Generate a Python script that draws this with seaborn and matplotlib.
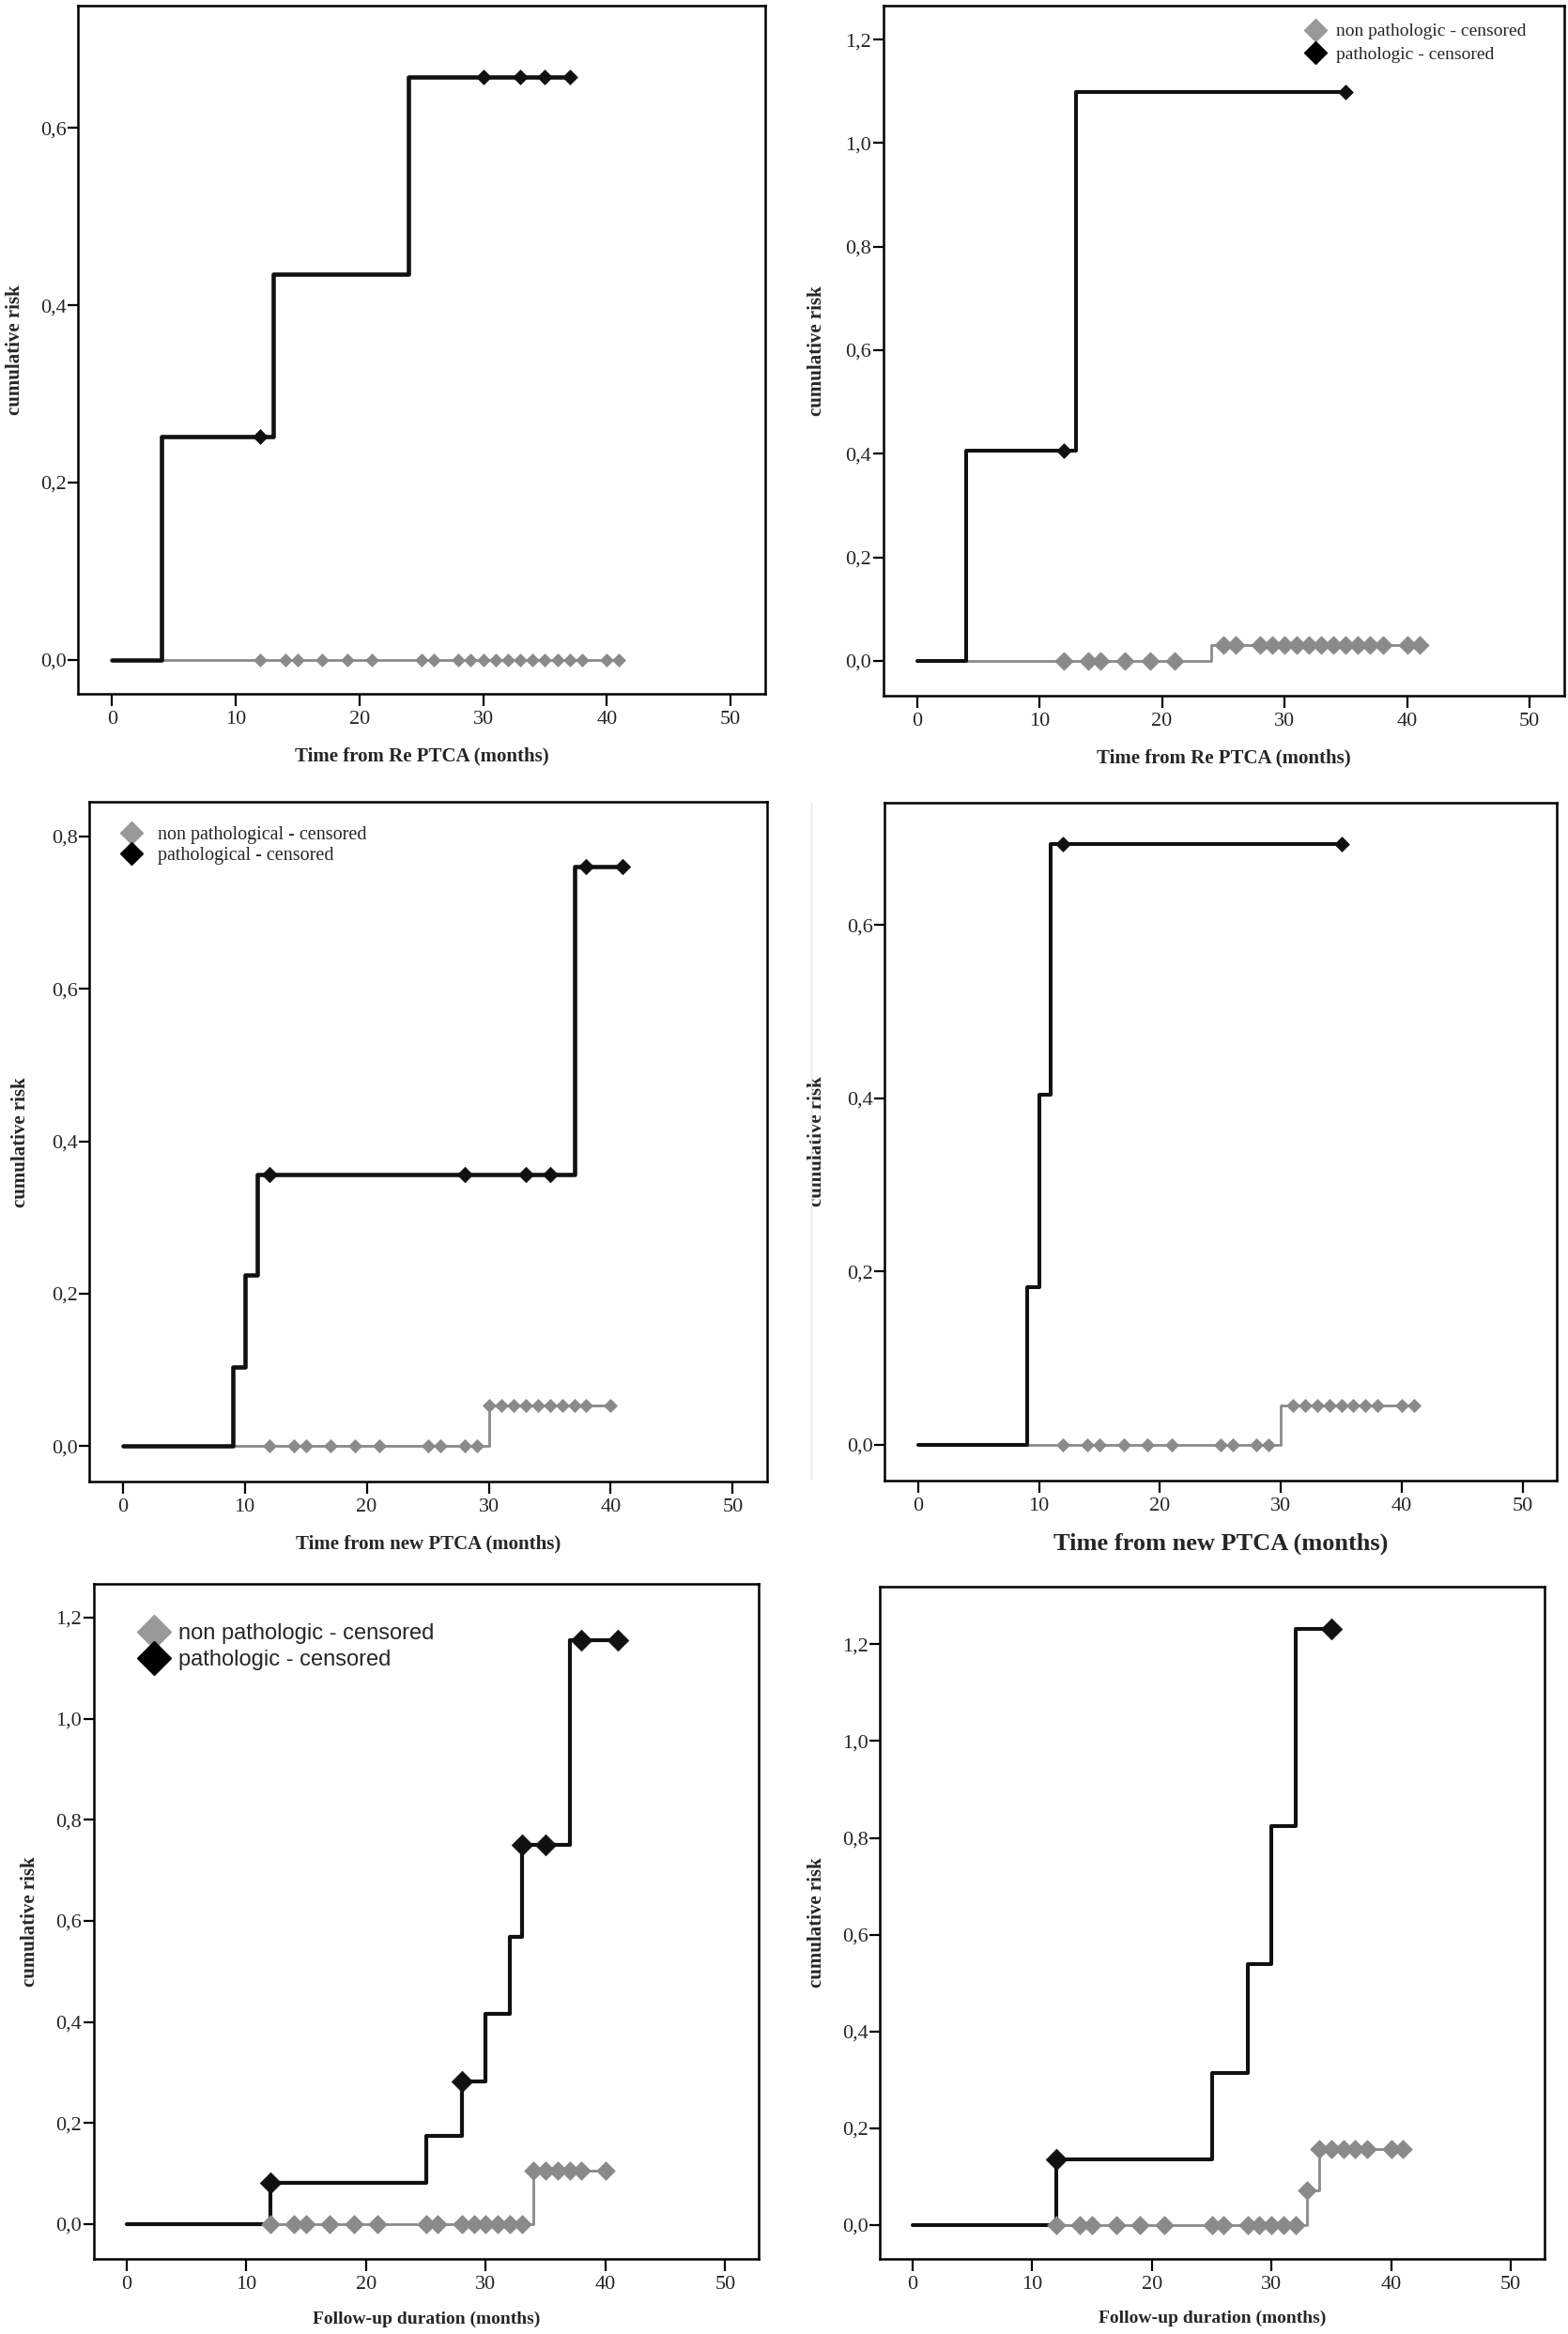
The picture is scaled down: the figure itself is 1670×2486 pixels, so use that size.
import numpy as np
import pandas as pd
import seaborn as sns
import matplotlib.pyplot as plt
from matplotlib.lines import Line2D

sns.set_style('white')
plt.rcParams['font.family'] = ['Liberation Serif', 'DejaVu Serif']

# ---- data ----
# panel 1 : Re PTCA
p1_blk_t = [0, 4, 13, 24, 37]
p1_blk_v = [0, 0.252, 0.435, 0.658, 0.658]
p1_blk_c = [12, 30, 33, 35, 37]
p1_gry_t = [0, 41]
p1_gry_v = [0, 0]
p1_gry_c = [12, 14, 15, 17, 19, 21, 25, 26, 28, 29, 30, 31, 32, 33, 34, 35, 36, 37, 38, 40, 41]

# panel 2 : Re PTCA
p2_blk_t = [0, 4, 13, 35]
p2_blk_v = [0, 0.405, 1.099, 1.099]
p2_blk_c = [12, 35]
p2_gry_t = [0, 24, 41]
p2_gry_v = [0, 0.031, 0.031]
p2_gry_c = [12, 14, 15, 17, 19, 21, 25, 26, 28, 29, 30, 31, 32, 33, 34, 35, 36, 37, 38, 40, 41]

# panel 3 : new PTCA
p3_blk_t = [0, 9, 10, 11, 37, 41]
p3_blk_v = [0, 0.104, 0.224, 0.356, 0.761, 0.761]
p3_blk_c = [12, 28, 33, 35, 38, 41]
p3_gry_t = [0, 30, 40]
p3_gry_v = [0, 0.053, 0.053]
p3_gry_c = [12, 14, 15, 17, 19, 21, 25, 26, 28, 29, 30, 31, 32, 33, 34, 35, 36, 37, 38, 40]

# panel 4 : new PTCA
p4_blk_t = [0, 9, 10, 11, 35]
p4_blk_v = [0, 0.182, 0.404, 0.693, 0.693]
p4_blk_c = [12, 35]
p4_gry_t = [0, 30, 41]
p4_gry_v = [0, 0.046, 0.046]
p4_gry_c = [12, 14, 15, 17, 19, 21, 25, 26, 28, 29, 31, 32, 33, 34, 35, 36, 37, 38, 40, 41]

# panel 5 : follow-up
p5_blk_t = [0, 12, 25, 28, 30, 32, 33, 37, 41]
p5_blk_v = [0, 0.081, 0.175, 0.282, 0.416, 0.569, 0.75, 1.156, 1.156]
p5_blk_c = [12, 28, 33, 35, 38, 41]
p5_gry_t = [0, 34, 40]
p5_gry_v = [0, 0.105, 0.105]
p5_gry_c = [12, 14, 15, 17, 19, 21, 25, 26, 28, 29, 30, 31, 32, 33, 34, 35, 36, 37, 38, 40]

# panel 6 : follow-up
p6_blk_t = [0, 12, 25, 28, 30, 32, 35]
p6_blk_v = [0, 0.135, 0.315, 0.539, 0.825, 1.231, 1.231]
p6_blk_c = [12, 35]
p6_gry_t = [0, 33, 34, 41]
p6_gry_v = [0, 0.072, 0.156, 0.156]
p6_gry_c = [12, 14, 15, 17, 19, 21, 25, 26, 28, 29, 30, 31, 32, 33, 34, 35, 36, 37, 38, 40, 41]

x_ticks = [0, 10, 20, 30, 40, 50]
xlabels = ['Time from Re PTCA (months)', 'Time from Re PTCA (months)',
           'Time from new PTCA (months)', 'Time from new PTCA (months)',
           'Follow-up duration (months)', 'Follow-up duration (months)']
ylabel = 'cumulative risk'
leg_a = ['non pathologic - censored', 'pathologic - censored']
leg_b = ['non pathological - censored', 'pathological - censored']

BLK = '#111111'
GRY = '#8a8a8a'


def step_at(t, v, pts):
    t = np.asarray(t)
    idx = np.searchsorted(t, pts, side='right') - 1
    return np.asarray(v)[idx]


panels = [
    dict(pos=[0.0497, 0.7027, 0.4383, 0.2948], ylim=(-0.0386, 0.738), yt=[0, 0.2, 0.4, 0.6],
         d=(p1_blk_t, p1_blk_v, p1_blk_c, p1_gry_t, p1_gry_v, p1_gry_c), lw=3.3, bms=8.0, gms=7.0,
         xfs=15, ylx=-0.078),
    dict(pos=[0.5633, 0.7019, 0.4341, 0.2958], ylim=(-0.0676, 1.266), yt=[0, 0.2, 0.4, 0.6, 0.8, 1.0, 1.2],
         d=(p2_blk_t, p2_blk_v, p2_blk_c, p2_gry_t, p2_gry_v, p2_gry_c), lw=2.9, bms=8.0, gms=9.8,
         xfs=15, ylx=-0.084),
    dict(pos=[0.0569, 0.3651, 0.4322, 0.2912], ylim=(-0.047, 0.845), yt=[0, 0.2, 0.4, 0.6, 0.8],
         d=(p3_blk_t, p3_blk_v, p3_blk_c, p3_gry_t, p3_gry_v, p3_gry_c), lw=3.3, bms=8.4, gms=7.2,
         xfs=15, ylx=-0.087),
    dict(pos=[0.5643, 0.3657, 0.4284, 0.2903], ylim=(-0.041, 0.741), yt=[0, 0.2, 0.4, 0.6],
         d=(p4_blk_t, p4_blk_v, p4_blk_c, p4_gry_t, p4_gry_v, p4_gry_c), lw=2.9, bms=8.0, gms=7.2,
         xfs=19, ylx=-0.087),
    dict(pos=[0.0596, 0.0322, 0.4243, 0.2890], ylim=(-0.069, 1.266), yt=[0, 0.2, 0.4, 0.6, 0.8, 1.0, 1.2],
         d=(p5_blk_t, p5_blk_v, p5_blk_c, p5_gry_t, p5_gry_v, p5_gry_c), lw=3.0, bms=11.5, gms=10.0,
         xfs=14, ylx=-0.081),
    dict(pos=[0.5611, 0.0322, 0.4237, 0.2880], ylim=(-0.07, 1.319), yt=[0, 0.2, 0.4, 0.6, 0.8, 1.0, 1.2],
         d=(p6_blk_t, p6_blk_v, p6_blk_c, p6_gry_t, p6_gry_v, p6_gry_c), lw=2.9, bms=11.5, gms=10.0,
         xfs=14, ylx=-0.081),
]

fig = plt.figure(figsize=(16.7, 24.86), dpi=100)

axes = []
for i, p in enumerate(panels):
    ax = fig.add_axes(p['pos'])
    bt, bv, bc, gt, gv, gc = p['d']
    sns.lineplot(x=gt, y=gv, drawstyle='steps-post', color=GRY, lw=2.0, ax=ax,
                 estimator=None, sort=False)
    sns.lineplot(x=bt, y=bv, drawstyle='steps-post', color=BLK, lw=p['lw'], ax=ax,
                 estimator=None, sort=False)
    sns.scatterplot(x=gc, y=step_at(gt, gv, gc), marker='D', s=p['gms'] ** 2, color=GRY,
                    edgecolor=GRY, linewidth=0.5, ax=ax, zorder=5)
    sns.scatterplot(x=bc, y=step_at(bt, bv, bc), marker='D', s=p['bms'] ** 2, color=BLK,
                    edgecolor=BLK, linewidth=0.5, ax=ax, zorder=6)
    ax.set_xlim(-2.75, 52.8)
    ax.set_ylim(*p['ylim'])
    ax.set_xticks(x_ticks)
    ax.set_xticklabels([str(v) for v in x_ticks], fontsize=16)
    ax.set_yticks(p['yt'])
    ax.set_yticklabels([f'{v:.1f}'.replace('.', ',') for v in p['yt']], fontsize=16)
    ax.tick_params(direction='out', width=1.6, left=True, bottom=True, color='black')
    ax.tick_params(axis='x', length=9, pad=4)
    ax.tick_params(axis='y', length=8, pad=1)
    for s in ax.spines.values():
        s.set_visible(True)
        s.set_linewidth(1.8)
        s.set_color('black')
    ax.set_xlabel(xlabels[i], fontsize=p['xfs'], fontweight='bold')
    ax.set_ylabel(ylabel, fontsize=15, fontweight='bold')
    ax.xaxis.set_label_coords(0.5, -0.077)
    ax.yaxis.set_label_coords(p['ylx'], 0.5)
    axes.append(ax)


def diamond(c, ms):
    return Line2D([], [], marker='D', ls='', color=c, markeredgecolor=c, ms=ms)


axes[1].legend([diamond('#999999', 12), diamond('black', 12)], leg_a, loc='upper left',
               bbox_to_anchor=(0.622, 0.974), frameon=False, fontsize=14, handlelength=1.0,
               handletextpad=0.6, labelspacing=0.35, borderpad=0, borderaxespad=0)
axes[2].legend([diamond('#999999', 12.5), diamond('black', 12.5)], leg_b, loc='upper left',
               bbox_to_anchor=(0.048, 0.965), frameon=False, fontsize=14.5, handlelength=1.0,
               handletextpad=0.9, labelspacing=0.15, borderpad=0, borderaxespad=0)
axes[4].legend([diamond('#999999', 18), diamond('black', 18)], leg_a, loc='upper left',
               bbox_to_anchor=(0.075, 0.942), frameon=False, handlelength=1.0,
               handletextpad=0.6, labelspacing=0.25, borderpad=0, borderaxespad=0,
               prop={'family': ['Liberation Sans', 'DejaVu Sans'], 'size': 17})

# faint scan edge left of panel 4
fig.add_artist(Line2D([864 / 1670, 864 / 1670], [1 - 1575 / 2486, 1 - 855 / 2486],
                      color='#e4e4e4', lw=1))

fig.savefig('out.png', dpi=100, facecolor='white')
